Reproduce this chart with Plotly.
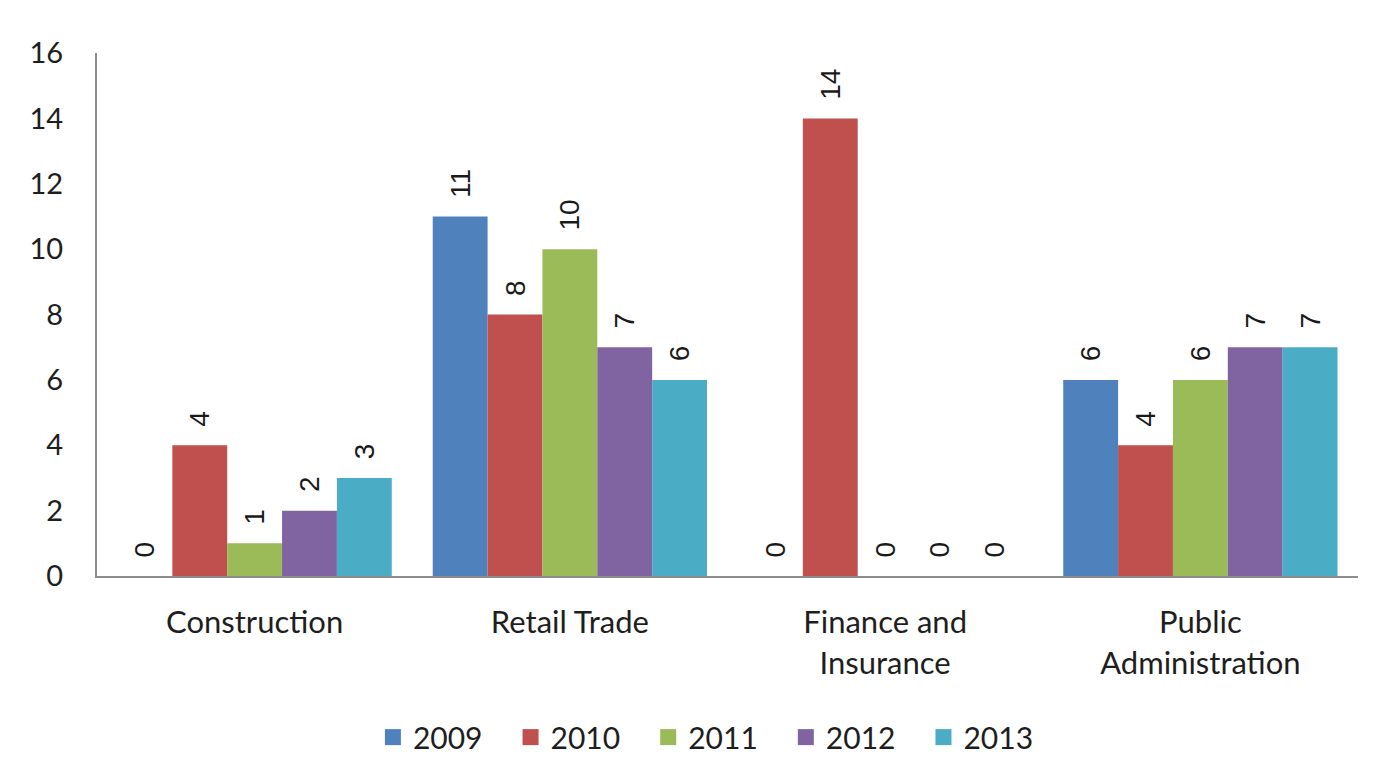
import plotly.graph_objects as go

categories = ["Construction", "Retail Trade", "Finance and<br>Insurance", "Public<br>Administration"]
years = ["2009", "2010", "2011", "2012", "2013"]
values_2009 = [0, 11, 0, 6]
values_2010 = [4, 8, 14, 4]
values_2011 = [1, 10, 0, 6]
values_2012 = [2, 7, 0, 7]
values_2013 = [3, 6, 0, 7]
series = [values_2009, values_2010, values_2011, values_2012, values_2013]
colors = ["#4F81BD", "#C0504D", "#9BBB59", "#8064A2", "#4BACC6"]
y_ticks = [0, 2, 4, 6, 8, 10, 12, 14, 16]

fig = go.Figure()
pad = "\u00a0\u00a0"
for yr, vals, col in zip(years, series, colors):
    fig.add_trace(go.Bar(
        x=categories, y=vals, name=yr, showlegend=False, legendgroup=yr,
        marker=dict(color=col, line=dict(width=0)),
        text=[pad + str(v) for v in vals],
        textposition="outside", textangle=-90,
        textfont=dict(family="Liberation Sans", size=28, color="#1a1a1a"),
        cliponaxis=False,
    ))
# legend entries with larger square swatches
for yr, col in zip(years, colors):
    fig.add_trace(go.Scatter(
        x=[None], y=[None], mode="markers", name=yr + "\u00a0\u00a0\u00a0", legendgroup=yr,
        marker=dict(symbol="square", size=17, color=col),
        showlegend=True,
    ))

fig.update_layout(
    barmode="group", bargap=0.13, bargroupgap=0,
    width=1375, height=754,
    margin=dict(l=89, r=25, t=45, b=186),
    paper_bgcolor="white", plot_bgcolor="white",
    font=dict(family="Lato", size=30, color="#1e1e1e"),
    legend=dict(orientation="h", x=0.492, xanchor="center",
                yref="container", y=0.033, yanchor="middle",
                font=dict(family="Lato", size=30, color="#1e1e1e"),
                itemwidth=30, traceorder="normal", itemsizing="trace"),
    xaxis=dict(showline=True, linecolor="#8c8c8c", linewidth=2, ticks="",
               ticklabelstandoff=18,
               tickfont=dict(family="Lato", size=31, color="#1e1e1e"),
               showgrid=False),
    yaxis=dict(range=[0, 16], tickvals=y_ticks, showline=True, linecolor="#8c8c8c",
               linewidth=2, showgrid=False, zeroline=False, ticks="",
               ticklabelstandoff=26,
               tickfont=dict(family="Lato", size=29, color="#1e1e1e")),
)

fig.write_html("out.html")
